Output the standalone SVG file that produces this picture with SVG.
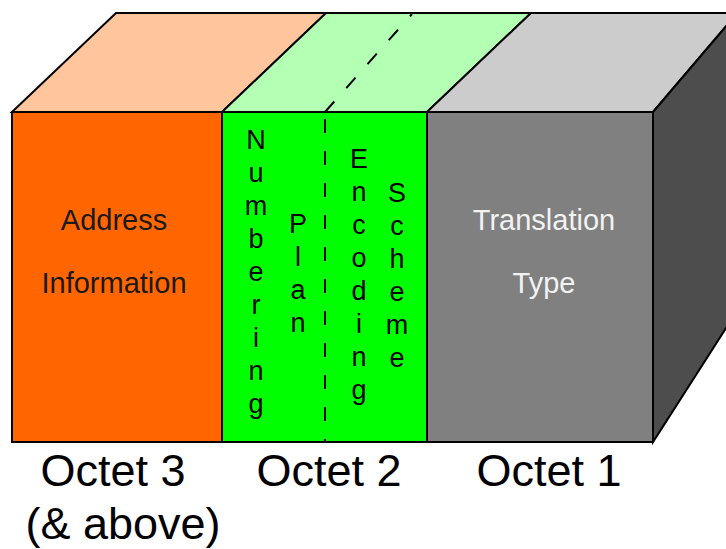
<svg xmlns="http://www.w3.org/2000/svg" width="726" height="549" viewBox="0 0 726 549">
<style>
.edge{stroke:#000;stroke-width:2;stroke-linejoin:miter}
.lbl{font-family:"Liberation Sans",Arial,sans-serif;font-size:29px;text-anchor:middle}
.v{font-family:"Liberation Sans",Arial,sans-serif;font-size:27px;text-anchor:middle;fill:#000}
.oct{font-family:"Liberation Sans",Arial,sans-serif;font-size:45px;text-anchor:middle;fill:#000}
.dash{stroke:#000;stroke-width:2;stroke-dasharray:14 18;fill:none}
</style>
<rect width="726" height="549" fill="#fff"/>
<g id="octet3">
  <polygon class="edge" points="12,112 116,13 326,13 222,112" fill="#FFC59C"/>
  <rect class="edge" x="12" y="112" width="210" height="330" fill="#FF6600"/>
  <text class="lbl" x="114" y="230" fill="#1a1a1a">Address</text>
  <text class="lbl" x="114" y="293" fill="#1a1a1a">Information</text>
</g>
<g id="octet2">
  <polygon class="edge" points="222,112 326,13 531,13 427,112" fill="#B3FFB3"/>
  <rect class="edge" x="222" y="112" width="205" height="330" fill="#00FF00"/>
  <line class="dash" x1="325" y1="112" x2="412" y2="14"/>
  <line class="dash" x1="325" y1="113" x2="325" y2="441" stroke-dashoffset="-6"/>
  <g class="v">
    <text x="256" y="149">N</text>
    <text x="256" y="182">u</text>
    <text x="256" y="215">m</text>
    <text x="256" y="248">b</text>
    <text x="256" y="281">e</text>
    <text x="256" y="314">r</text>
    <text x="256" y="347">i</text>
    <text x="256" y="380">n</text>
    <text x="256" y="413">g</text>
    <text x="298" y="233">P</text>
    <text x="298" y="266">l</text>
    <text x="298" y="299">a</text>
    <text x="298" y="332">n</text>
    <text x="359" y="168">E</text>
    <text x="359" y="201">n</text>
    <text x="359" y="234">c</text>
    <text x="359" y="267">o</text>
    <text x="359" y="300">d</text>
    <text x="359" y="333">i</text>
    <text x="359" y="366">n</text>
    <text x="359" y="399">g</text>
    <text x="397" y="202">S</text>
    <text x="397" y="235">c</text>
    <text x="397" y="268">h</text>
    <text x="397" y="301">e</text>
    <text x="397" y="334">m</text>
    <text x="397" y="367">e</text>
  </g>
</g>
<g id="octet1">
  <polygon class="edge" points="427,112 531,13 728,13 728,24 653,112" fill="#CCCCCC"/>
  <polygon class="edge" points="653,112 728,24 728,325 653,442" fill="#4D4D4D"/>
  <rect class="edge" x="427" y="112" width="226" height="330" fill="#808080"/>
  <text class="lbl" x="544" y="230" fill="#F2F2F2">Translation</text>
  <text class="lbl" x="544" y="293" fill="#F2F2F2">Type</text>
</g>
<g id="labels">
  <text class="oct" x="113" y="486">Octet 3</text>
  <text class="oct" x="329" y="486">Octet 2</text>
  <text class="oct" x="549" y="486">Octet 1</text>
  <text class="oct" x="123" y="539">(&amp; above)</text>
</g>
</svg>
